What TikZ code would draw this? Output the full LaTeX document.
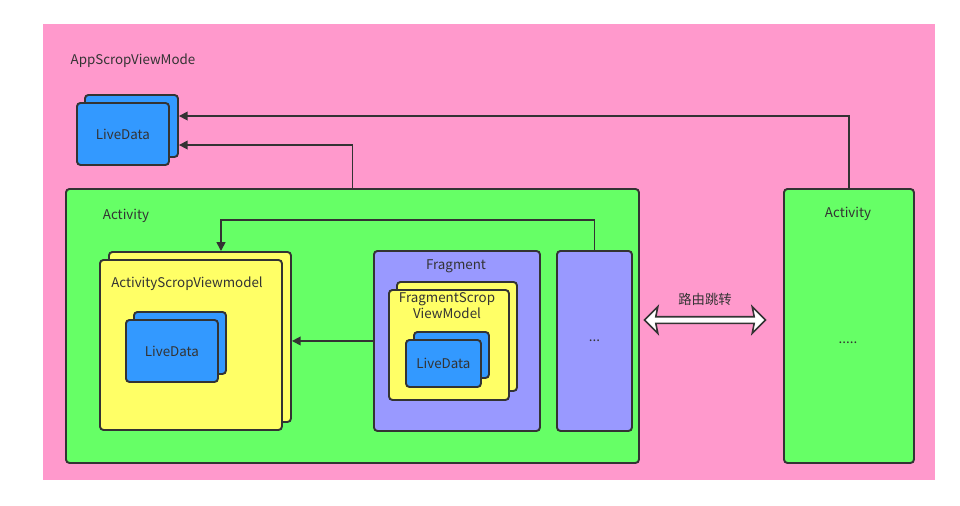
\documentclass[tikz,border=0pt]{standalone}
\usepackage{fontspec}
\setmainfont{Noto Sans CJK SC}
\usetikzlibrary{arrows.meta,shapes.arrows}
\definecolor{pinkbg}{HTML}{FF99CC}
\definecolor{actgreen}{HTML}{66FF66}
\definecolor{ldblue}{HTML}{3399FF}
\definecolor{vmyellow}{HTML}{FFFF66}
\definecolor{fragpurple}{HTML}{9999FF}
\definecolor{ink}{HTML}{333333}
\tikzset{
  card/.style={draw=ink, line width=1.1pt, rounded corners=2pt, anchor=north west, inner sep=0pt, text=ink},
  wh/.style 2 args={minimum width=#1*0.02cm, minimum height=#2*0.02cm},
  lbl/.style={text=ink, inner sep=0pt},
  link/.style={draw=ink, line width=0.9pt, ->}
}
\begin{document}
\begin{tikzpicture}[x=0.02cm, y=-0.02cm, >={Triangle[length=5pt,width=5pt]}, font=\fontsize{7.6}{9.2}\selectfont]
\useasboundingbox (0,0) rectangle (960,505);
\fill[pinkbg] (43,24) rectangle (935,480);
\node[lbl] (appLbl) at (133,61) {AppScropViewMode};

% app scope livedata
\node[card, fill=ldblue, wh={93}{62}] (ldTopB) at (84,94) {};
\node[card, fill=ldblue, wh={92}{62}] (ldTop) at (76,102) {LiveData};

% activities
\node[card, fill=actgreen, wh={573}{274}] (actL) at (65,188) {};
\node[lbl] (actLLbl) at (126,216) {Activity};
\node[card, fill=actgreen, wh={130}{274}] (actR) at (783,188) {};
\node[lbl] (actRLbl) at (848,214) {Activity};
\node[lbl] (actRDots) at (848,343) {.....};

% activity scope viewmodel
\node[card, fill=vmyellow, wh={182}{170}] (asvmB) at (108,251) {};
\node[card, fill=vmyellow, wh={182}{170}] (asvm) at (99,259) {};
\node[lbl] (asvmLbl) at (187,284) {ActivityScropViewmodel};
\node[card, fill=ldblue, wh={92}{62}] (ldAB) at (133,311) {};
\node[card, fill=ldblue, wh={92}{62}] (ldA) at (125,319) {LiveData};

% fragment
\node[card, fill=fragpurple, wh={166}{180}] (frag) at (373,250) {};
\node[lbl] (fragLbl) at (456,266) {Fragment};
\node[card, fill=vmyellow, wh={120}{109}] (fsvmB) at (396,281) {};
\node[card, fill=vmyellow, wh={120}{110}] (fsvm) at (388,289) {};
\node[lbl, align=center] (fsvmLbl) at (447,306) {FragmentScrop\\ViewModel};
\node[card, fill=ldblue, wh={75}{46}] (ldFB) at (413,331) {};
\node[card, fill=ldblue, wh={75}{47}] (ldF) at (405,339) {LiveData};
\node[card, fill=fragpurple, wh={75}{180}] (dots) at (556,250) {...};

% links
\draw[link] (actR.north) |- (ldTopB.east |- 0,116);
\draw[link] (actL.north) |- (ldTopB.east |- 0,145);
\coordinate (bend) at (221,220);
\draw[link] (dots.north) |- (bend) -- (bend |- asvmB.north);
\draw[link] (frag.west) -- (frag.west -| asvmB.east);

% route jump
\node[double arrow, draw=ink, line width=0.9pt, fill=white, inner sep=0pt,
  minimum height=2.42cm, double arrow head extend=0.2cm,
  double arrow head indent=0.04cm] (route) at (705,320) {\rule{0pt}{0.1cm}};
\node[lbl] (routeLbl) at (705,299) {路由跳转};
\end{tikzpicture}
\end{document}
